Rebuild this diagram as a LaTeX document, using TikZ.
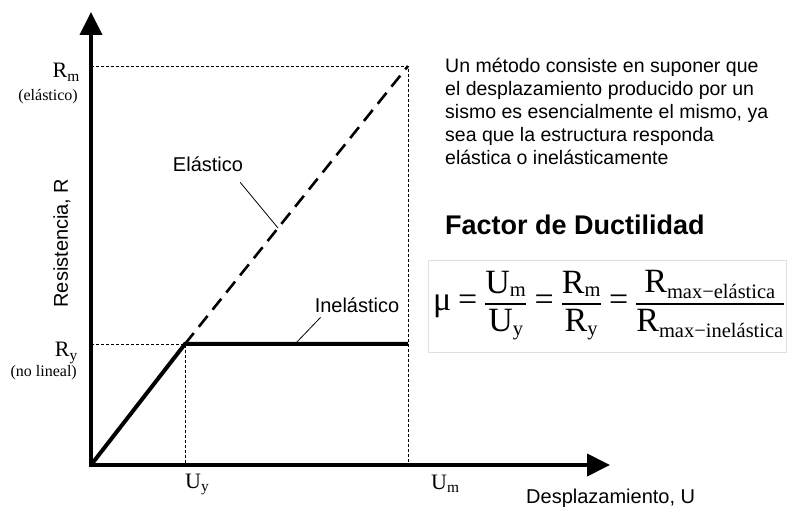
\documentclass[tikz,border=0pt]{standalone}
\usepackage{amsmath}
\usepackage{fontspec}
\setmainfont{Liberation Sans}
\newfontfamily\tmsfont{Liberation Serif}
\usetikzlibrary{arrows.meta,positioning}
\newcommand{\tms}[1]{\text{\tmsfont #1}}
\newcommand{\tmsub}[1]{\text{\fontsize{20.5}{22}\selectfont\tmsfont #1}}
\tikzset{
  axisline/.style ={line width=4pt,line cap=rect,-{Triangle[length=23pt,width=22pt]}},
  curve/.style    ={line width=4pt,line join=miter},
  elastline/.style={line width=2.6pt,dash pattern=on 14pt off 8pt},
  guide/.style    ={line width=0.8pt,dash pattern=on 3pt off 2pt},
  leader/.style   ={line width=0.8pt},
  sanslbl/.style  ={font=\fontsize{20}{24}\selectfont,inner sep=1pt},
  serlbl/.style   ={font=\fontsize{22}{26}\selectfont\tmsfont,inner sep=0pt},
  notelbl/.style  ={font=\fontsize{16}{19}\selectfont\tmsfont,inner sep=0pt},
  fbox/.style     ={draw=black!12,line width=0.8pt,minimum width=358pt,
                    minimum height=92pt,inner sep=0pt},
}

\begin{document}
\begin{tikzpicture}[x=1pt, y=1pt]
\useasboundingbox (0,0) rectangle (789,506);

%% ---------------- key points ----------------
\coordinate (O)    at (91,41);
\coordinate (ytip) at (91,494);
\coordinate (xtip) at (610,41);
\coordinate (rmAx) at (91,440);
\coordinate (ryAx) at (91,162);
\coordinate (uyAx) at (185,41);
\coordinate (umAx) at (408,41);
\coordinate (yld)  at (185,162);
\coordinate (plat) at (408,162);
\coordinate (elmax) at (408,440);

%% ---------------- guides and curves ----------------
\draw[guide] (rmAx) -- (elmax) -- (umAx);
\draw[guide] (ryAx) -- (yld) -- (uyAx);
\draw[elastline] (yld) -- (elmax);
\draw[curve] (O) -- (yld) -- (plat);

%% axes
\draw[axisline] (O) -- (ytip);
\draw[axisline] (O) -- (xtip);

%% ---------------- axis labels ----------------
\node[serlbl,anchor=base east] (rm) at (80,428) {R\textsubscript{m}};
\node[notelbl,anchor=base east] (rmnote) at (78,405) {(elástico)};
\node[serlbl,anchor=base east] (ry) at (78,149) {R\textsubscript{y}};
\node[notelbl,anchor=base east] (rynote) at (77,129) {(no lineal)};
\node[serlbl,anchor=base west] (uy) at (185,18) {U\textsubscript{y}};
\node[serlbl,anchor=base west] (um) at (431,17) {U\textsubscript{m}};
\node[sanslbl,anchor=base west] (xlbl) at (525,3) {Desplazamiento, U};
\node[sanslbl,rotate=90] (ylbl) at (62,263) {Resistencia, R};

%% ---------------- curve labels ----------------
\node[sanslbl,anchor=base] (el) at (208,334) {Elástico};
\node[sanslbl,anchor=base] (inel) at (357,193) {Inelástico};
\coordinate (elpt) at (278,278);
\coordinate (inpt) at (295,162);
\draw[leader] ([xshift=-4pt,yshift=-9pt]el.south east) -- (elpt);
\draw[leader] ([xshift=7pt,yshift=-3pt]inel.south west) -- (inpt);

%% ---------------- explanation ----------------
\node[font=\fontsize{19.5}{23}\selectfont,align=left,anchor=north west,inner sep=0pt]
  (note) at (445,448)
  {Un método consiste en suponer que\\
   el desplazamiento producido por un\\
   sismo es esencialmente el mismo, ya\\
   sea que la estructura responda\\
   elástica o inelásticamente};
\node[font=\fontsize{27}{31}\selectfont\bfseries,anchor=base west,inner sep=0pt]
  (ttl) at (445,271) {Factor de Ductilidad};

%% formula
\node[fbox] (box) at (607,200) {};
\node[font=\fontsize{34}{38}\selectfont,inner sep=0pt] (mu) at (609,201)
  {$\displaystyle \tms{μ} \mathrel{\tms{=}}
   \genfrac{}{}{1.6pt}{0}{\tms{U}_{\tmsub{m}}}{\tms{U}_{\tmsub{y}}}
   \mathrel{\tms{=}}
   \genfrac{}{}{1.6pt}{0}{\tms{R}_{\tmsub{m}}}{\tms{R}_{\tmsub{y}}}
   \mathrel{\tms{=}}
   \genfrac{}{}{1.6pt}{0}{\tms{R}_{\tmsub{max−elástica}}}{\tms{R}_{\tmsub{max−inelástica}}}$};

\end{tikzpicture}
\end{document}
